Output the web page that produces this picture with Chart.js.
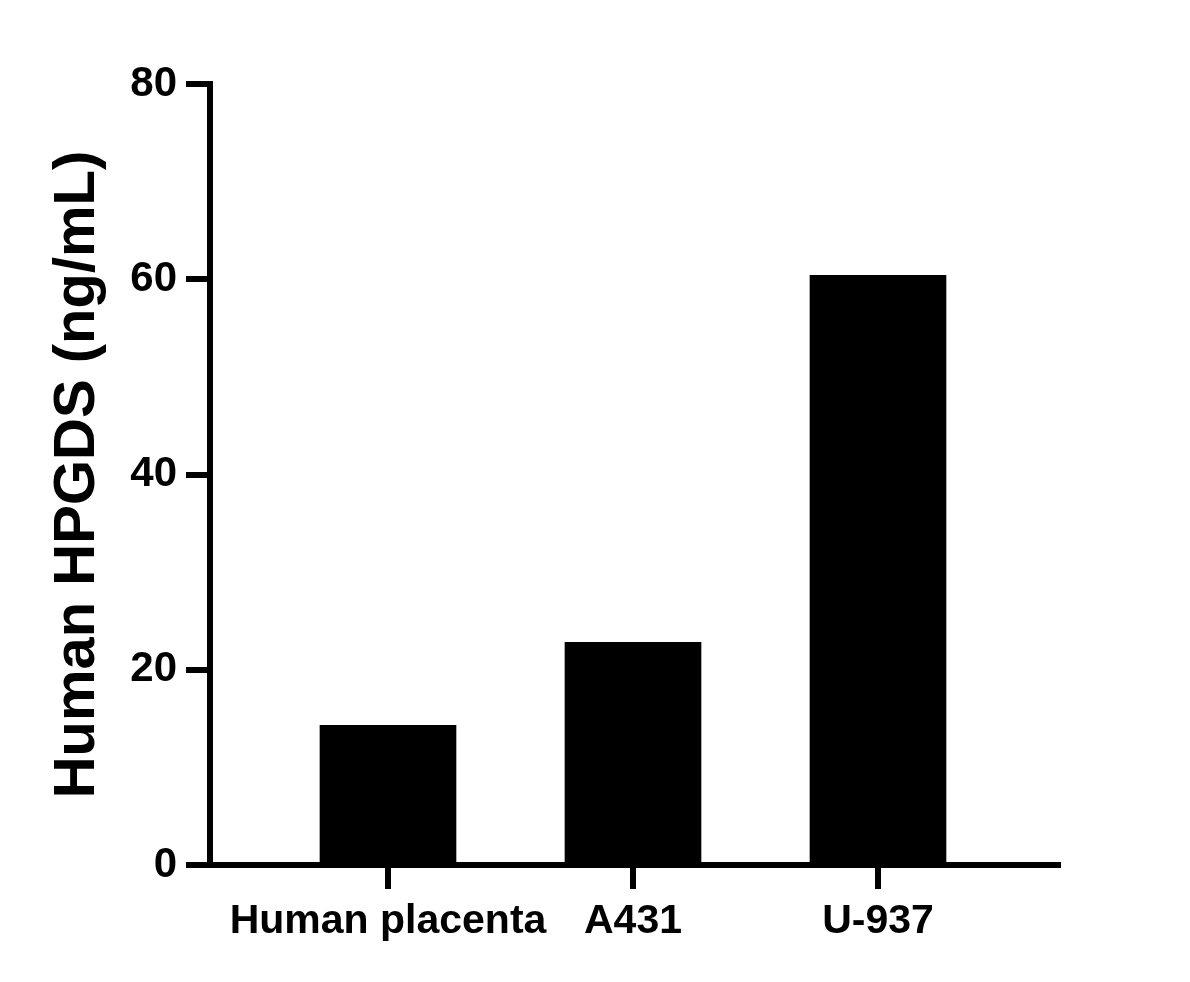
<!DOCTYPE html>
<html>
<head>
<meta charset="utf-8">
<script src="https://cdn.jsdelivr.net/npm/chart.js@4"></script>
<style>
  body { margin: 0; background: #fff; }
  canvas { display: block; }
</style>
</head>
<body>
<canvas id="chartHpgds" width="1190" height="982"></canvas>
<script>
const categories = ['Human placenta', 'A431', 'U-937']
const hpgdsValues = [14.3, 22.8, 60.4]
const yTicks = [0, 20, 40, 60, 80]

const ctx = document.querySelector('#chartHpgds').getContext('2d')

Chart.defaults.font.family = '"Liberation Sans", Arial, sans-serif'
Chart.defaults.font.weight = 'bold'
Chart.defaults.color = '#000'

const points = categories.map((c, i) => ({ x: i + 1, y: hpgdsValues[i] }))

new Chart(ctx, {
    type: 'bar',
    data: {
        datasets: [{
            label: 'Human HPGDS',
            data: points,
            backgroundColor: '#000',
            borderWidth: 0,
            barThickness: 136
        }]
    },
    options: {
        responsive: false,
        animation: false,
        layout: {
            padding: { top: 84, right: 132, bottom: 0, left: 0 }
        },
        plugins: {
            legend: { display: false },
            tooltip: { enabled: false }
        },
        scales: {
            x: {
                type: 'linear',
                offset: false,
                min: 0.2735,
                max: 3.7347,
                afterFit: scale => { scale.height = 117 },
                afterBuildTicks: scale => {
                    scale.ticks = categories.map((c, i) => ({ value: i + 1 }))
                },
                grid: {
                    offset: false,
                    drawOnChartArea: false,
                    tickLength: 24,
                    lineWidth: 6,
                    color: '#000'
                },
                border: { color: '#000', width: 6 },
                ticks: {
                    padding: 8,
                    maxRotation: 0,
                    autoSkip: false,
                    font: { size: 41, weight: 'bold' },
                    callback: v => categories[v - 1]
                }
            },
            y: {
                min: 0,
                max: 80,
                afterFit: scale => { scale.width = 210 },
                afterBuildTicks: scale => {
                    scale.ticks = yTicks.map(v => ({ value: v }))
                },
                grid: {
                    drawOnChartArea: false,
                    tickLength: 24,
                    lineWidth: 6,
                    color: '#000'
                },
                border: { color: '#000', width: 6 },
                ticks: {
                    padding: 9,
                    font: { size: 42, weight: 'bold' }
                },
                title: {
                    display: true,
                    text: 'Human HPGDS (ng/mL)',
                    padding: { top: 43, bottom: 0 },
                    font: { size: 58, weight: 'bold' }
                }
            }
        }
    }
})
</script>
</body>
</html>
